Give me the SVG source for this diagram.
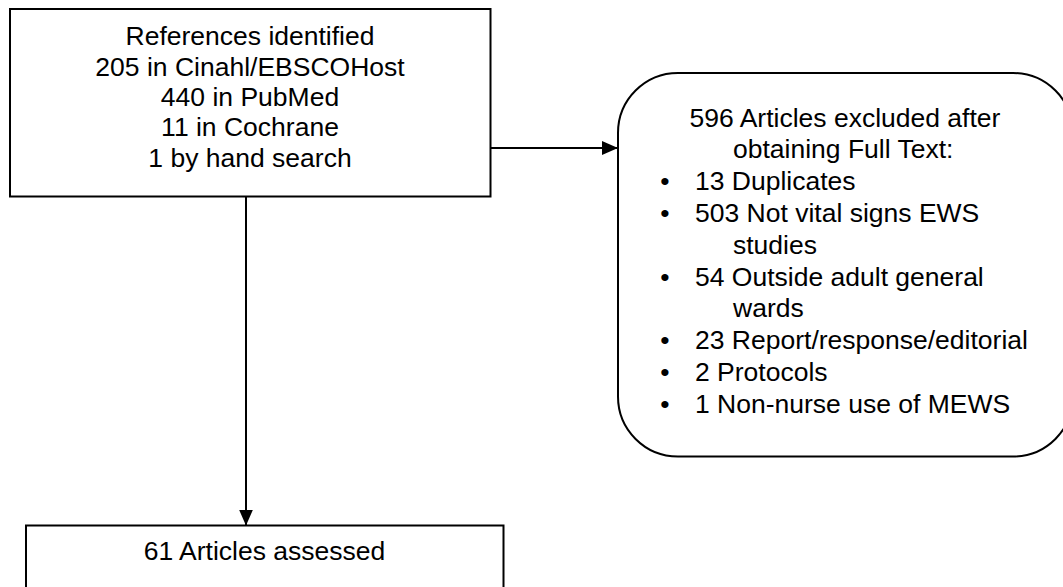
<svg xmlns="http://www.w3.org/2000/svg" width="1063" height="587" viewBox="0 0 1063 587">
<style>
.box{fill:#fff;stroke:#000;stroke-width:2}
.t{font-family:"Liberation Sans",Arial,sans-serif;font-size:26.5px;fill:#000}
.c{text-anchor:middle}
.conn{stroke:#000;stroke-width:2;fill:none}
</style>
<defs>
<marker id="ah" markerWidth="16" markerHeight="14" refX="16" refY="7" orient="auto" markerUnits="userSpaceOnUse">
<path d="M0,0 L16,7 L0,14 Z" fill="#000"/>
</marker>
</defs>
<rect width="1063" height="587" fill="#fff"/>
<g id="connectors">
<line class="conn" x1="490.5" y1="148" x2="618" y2="148" marker-end="url(#ah)"/>
<line class="conn" x1="246" y1="196.5" x2="246" y2="525.5" marker-end="url(#ah)"/>
</g>
<g id="node-references">
<rect class="box" x="10" y="9" width="480.5" height="187.5"/>
<text class="t c" x="250" y="45">References identified</text>
<text class="t c" x="250" y="75.5">205 in Cinahl/EBSCOHost</text>
<text class="t c" x="250" y="106">440 in PubMed</text>
<text class="t c" x="250" y="136">11 in Cochrane</text>
<text class="t c" x="250" y="166.5">1 by hand search</text>
</g>
<g id="node-excluded">
<rect class="box" x="618" y="73" width="455" height="383.5" rx="60" ry="60"/>
<text class="t c" x="845" y="126.5">596 Articles excluded after</text>
<text class="t" x="733" y="158.3">obtaining Full Text:</text>
<text class="t c" x="665" y="190.1">•</text>
<text class="t" x="695" y="190.1">13 Duplicates</text>
<text class="t c" x="665" y="221.9">•</text>
<text class="t" x="695" y="221.9">503 Not vital signs EWS</text>
<text class="t" x="733" y="253.7">studies</text>
<text class="t c" x="665" y="285.5">•</text>
<text class="t" x="695" y="285.5">54 Outside adult general</text>
<text class="t" x="733" y="317.3">wards</text>
<text class="t c" x="665" y="349.1">•</text>
<text class="t" x="695" y="349.1">23 Report/response/editorial</text>
<text class="t c" x="665" y="380.9">•</text>
<text class="t" x="695" y="380.9">2 Protocols</text>
<text class="t c" x="665" y="412.7">•</text>
<text class="t" x="695" y="412.7">1 Non-nurse use of MEWS</text>
</g>
<g id="node-assessed">
<rect class="box" x="26" y="525.5" width="477.5" height="80"/>
<text class="t c" x="264.5" y="560">61 Articles assessed</text>
</g>
</svg>
